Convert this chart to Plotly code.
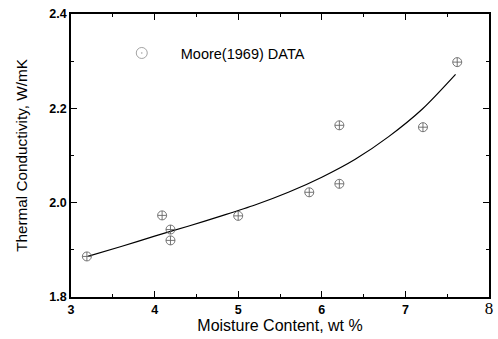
import plotly.graph_objects as go

# Measured data (Moore 1969)
moisture = [3.19, 4.09, 4.19, 4.19, 5.00, 5.85, 6.21, 6.21, 7.21, 7.62]
conductivity = [1.886, 1.973, 1.943, 1.920, 1.972, 2.022, 2.040, 2.164, 2.160, 2.298]

# Fitted curve
fit_x = [3.2, 3.6, 4.0, 4.4, 4.8, 5.2, 5.6, 6.0, 6.4, 6.8, 7.2, 7.6]
fit_y = [1.886, 1.907, 1.929, 1.950, 1.972, 1.995, 2.022, 2.054, 2.092, 2.140, 2.198, 2.272]

x_ticks = [3, 4, 5, 6, 7, 8]
x_ticktext = ["3", "4", "5", "6", "7",
              "<span style='font-family:Liberation Serif;font-weight:normal;font-size:17px'>8</span>"]
y_ticks = [1.8, 2.0, 2.2, 2.4]
y_ticktext = ["1.8", "2.0", "2.2", "2.4"]

fig = go.Figure()
fig.add_trace(go.Scatter(
    x=fit_x, y=fit_y, mode="lines", line=dict(color="black", width=1.2, shape="spline", smoothing=0.8),
    showlegend=False, hoverinfo="skip"))
fig.add_trace(go.Scatter(
    x=moisture, y=conductivity, mode="markers",
    marker=dict(symbol="circle-cross-open", size=9, color="#666666", line=dict(width=0.9)),
    showlegend=False))
fig.add_trace(go.Scatter(
    x=[None], y=[None], mode="markers", name="Moore(1969) DATA",
    marker=dict(symbol="circle-open-dot", size=11, color="#999999", line=dict(width=0.9))))

axis_common = dict(
    showline=True, linecolor="black", linewidth=1.6, mirror="ticks",
    ticks="inside", ticklen=6, tickwidth=1.4, tickcolor="black",
    showgrid=False, zeroline=False,
    tickfont=dict(family="Liberation Sans", size=12.5, color="black", weight="bold"),
)

fig.update_xaxes(
    range=[3, 8], tickvals=x_ticks, ticktext=x_ticktext,
    minor=dict(ticks="inside", ticklen=3, tickwidth=1.2, tickcolor="black", dtick=0.5, tick0=3),
    title=dict(text="Moisture Content, wt %", font=dict(family="Liberation Sans", size=16, color="black"),
               standoff=0),
    **axis_common)
fig.update_yaxes(
    range=[1.8, 2.4], tickvals=y_ticks, ticktext=y_ticktext,
    minor=dict(ticks="inside", ticklen=3, tickwidth=1.2, tickcolor="black", dtick=0.1, tick0=1.8),
    title=dict(text="Thermal Conductivity, W/mK", font=dict(family="Liberation Sans", size=15.3, color="black"),
               standoff=18),
    **axis_common)

fig.update_layout(
    width=498, height=339,
    margin=dict(l=71, r=5, t=14, b=42),
    plot_bgcolor="white", paper_bgcolor="white",
    legend=dict(x=0.076, y=0.862, xanchor="left", yanchor="middle",
                bgcolor="rgba(0,0,0,0)", itemwidth=68,
                font=dict(family="Liberation Sans", size=14.5, color="black")),
)

fig.write_html("out.html")
